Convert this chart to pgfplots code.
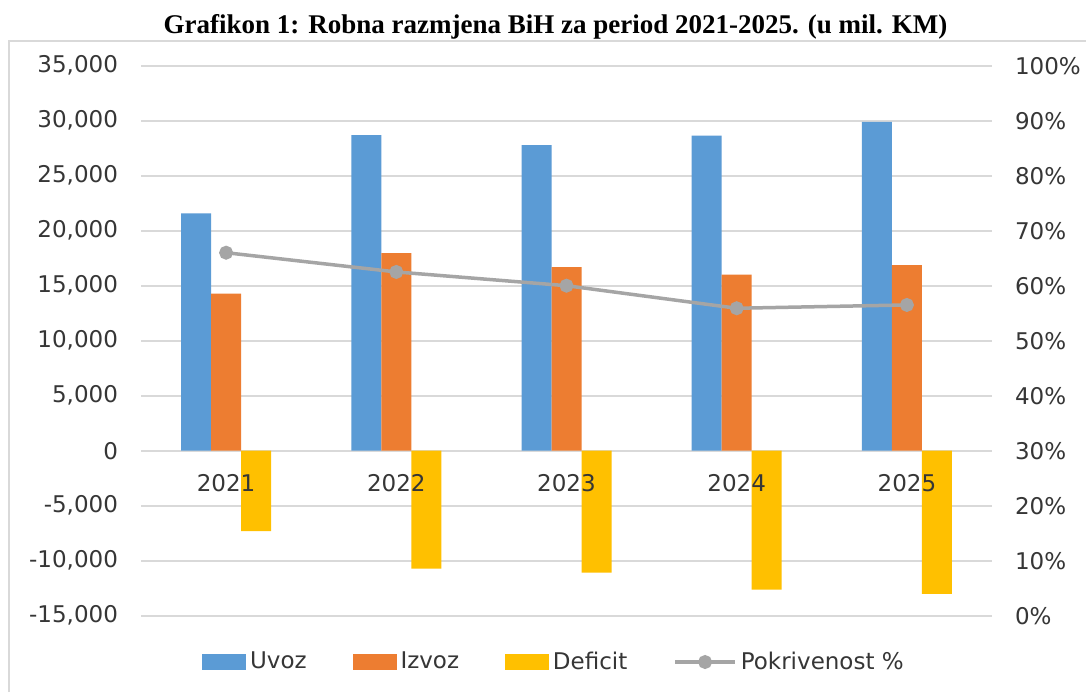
\documentclass[border=0pt]{standalone}
\usepackage{pgfplots}
\pgfplotsset{compat=1.18}
\usepackage{fontspec}
\setmainfont{DejaVu Sans}
\newfontfamily\titlefont{Liberation Serif}
\definecolor{cUvoz}{HTML}{5B9BD5}
\definecolor{cIzvoz}{HTML}{ED7D31}
\definecolor{cDef}{HTML}{FFC000}
\definecolor{cPok}{HTML}{A5A5A5}
\definecolor{cGrid}{HTML}{D9D9D9}
\definecolor{cText}{HTML}{363636}
\pgfplotsset{
  basegeom/.style={
    at={(70.5pt,38.15pt)}, anchor=south west,
    width=425.5pt, height=275pt, scale only axis,
    xmin=-0.5, xmax=4.5,
    major tick length=0pt,
    tick label style={font=\fontsize{11.5}{13}\selectfont, text=cText},
    /pgf/number format/assume math mode=true,
    clip=false,
  },
}
\begin{document}
\begin{tikzpicture}[x=1pt,y=1pt]
\useasboundingbox (0,0) rectangle (543,346);
\fill[white] (0,0) rectangle (543,346);
\draw[cGrid, line width=0.8pt] (4.5,0) -- (4.5,325.5) -- (543,325.5);
\node[anchor=base, inner sep=0pt, font=\titlefont\bfseries\fontsize{13.5}{15}\selectfont] at (277.75,329.3) {Grafikon 1: Robna razmjena BiH za period 2021-2025. (u mil. KM)};
% bars, left axis
\begin{axis}[
  basegeom,
  ymin=-15000, ymax=35000,
  ytick={-15000,-10000,...,35000},
  scaled y ticks=false,
  xtick=\empty,
  axis x line=middle,
  axis y line*=left,
  x axis line style={draw=cGrid, line width=0.8pt, -},
  y axis line style={draw=none},
  hide obscured y ticks=false,
  ymajorgrids,
  grid style={draw=cGrid, line width=0.8pt},
  /pgf/number format/fixed,
  /pgf/number format/1000 sep={,},
  yticklabel shift=8pt,
  ybar, bar width=15pt,
]
\addplot[fill=cUvoz, draw=none, bar shift=-15pt] coordinates {(0,21580) (1,28700) (2,27790) (3,28640) (4,29900)};
\addplot[fill=cIzvoz, draw=none, bar shift=0pt] coordinates {(0,14270) (1,17970) (2,16700) (3,16000) (4,16880)};
\addplot[fill=cDef, draw=none, bar shift=15pt] coordinates {(0,-7310) (1,-10730) (2,-11090) (3,-12640) (4,-13020)};
\end{axis}
% category labels on top of bars
\begin{axis}[
  basegeom,
  ymin=-15000, ymax=35000,
  ytick=\empty,
  xtick={0,1,2,3,4},
  xticklabels={2021,2022,2023,2024,2025},
  axis x line=middle,
  axis y line=none,
  x axis line style={draw=none},
  xticklabel style={yshift=-8.5pt},
]
\addplot[draw=none, forget plot] coordinates {(0,0) (4,0)};
\end{axis}
% coverage line, right axis
\begin{axis}[
  basegeom,
  ymin=0, ymax=100,
  ytick={0,10,...,100},
  yticklabel={\pgfmathprintnumber{\tick}\%},
  axis y line*=right,
  axis x line=none,
  y axis line style={draw=none},
  yticklabel shift=8pt,
  legend style={at={(0.4865,-0.0842)}, anchor=center, legend columns=-1, draw=none, fill=none,
    font=\fontsize{11.5}{13}\selectfont, text=cText,
    /tikz/every even column/.append style={column sep=21pt}},
]
\addlegendimage{legend image code/.code={\fill[cUvoz] (0pt,-3.75pt) rectangle (21.5pt,3.75pt);}}
\addlegendentry{Uvoz}
\addlegendimage{legend image code/.code={\fill[cIzvoz] (0pt,-3.75pt) rectangle (21.5pt,3.75pt);}}
\addlegendentry{Izvoz}
\addlegendimage{legend image code/.code={\fill[cDef] (0pt,-3.75pt) rectangle (21.5pt,3.75pt);}}
\addlegendentry{Deficit}
\addplot[color=cPok, line width=1.75pt, mark=*, mark size=2.6pt,
  legend image code/.code={\draw[cPok, line width=1.75pt] (0pt,0pt) -- (30pt,0pt); \fill[cPok] (15pt,0pt) circle (2.6pt);}]
  coordinates {(0,66.0) (1,62.5) (2,60.0) (3,55.9) (4,56.5)};
\addlegendentry{Pokrivenost \%}
\end{axis}
\end{tikzpicture}
\end{document}
